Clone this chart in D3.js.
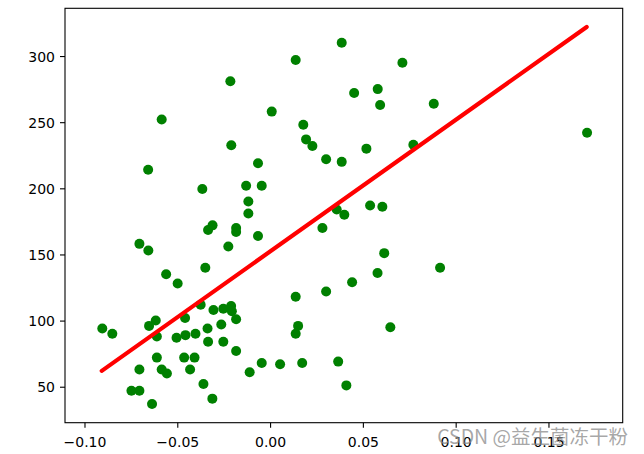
<!DOCTYPE html>
<html>
<head>
<meta charset="utf-8">
<script src="https://cdn.jsdelivr.net/npm/d3@7"></script>
<style>
  html, body { margin: 0; padding: 0; background: #fff; }
  svg { display: block; }
</style>
</head>
<body>
<svg id="chart" width="644" height="454"></svg>
<script>
// Scatter data (x feature value, target value)
const xValues = [
  0.0386, 0.0138, 0.0713, -0.0214, 0.0580, 0.0453, 0.0882, 0.0593, 0.0009, -0.0584,
  0.0179, 0.1708, 0.0194, -0.0209, 0.0772, 0.0228, 0.0519, 0.0302, 0.0386, -0.0065,
  -0.0657, -0.0129, -0.0045, -0.0365, -0.0117, 0.0539, 0.0605, 0.0359, -0.0117, 0.0400,
  -0.0310, -0.0334, -0.0183, -0.0183, 0.0282, -0.0065, -0.0704, -0.0225, -0.0656, 0.0615,
  -0.0349, 0.0916, -0.0560, 0.0579, -0.0498, 0.0442, 0.0302, 0.0138, -0.0374, -0.0210,
  -0.0252, -0.0305, -0.0206, -0.0616, -0.0458, -0.0183, -0.0263, -0.0652, 0.0151, 0.0648,
  -0.0904, -0.0337, -0.0850, 0.0138, -0.0456, -0.0402, -0.0610, -0.0504, -0.0334, -0.0252,
  -0.0183, -0.0610, -0.0463, -0.0407, 0.0367, 0.0173, -0.0045, 0.0054, -0.0704, -0.0584,
  -0.0556, -0.0431, -0.0110, -0.0359, 0.0411, -0.0747, -0.0704, -0.0311, -0.0636
];
const yValues = [
  310, 297, 295, 281, 275, 272, 264, 263, 258, 252,
  248, 242, 237, 232.5, 233, 232, 230, 222, 220, 219,
  214, 202, 202, 199.5, 190, 187, 186, 184, 181, 180,
  172, 168.5, 170, 167, 170, 164, 158, 156, 153, 151,
  140, 140, 135, 136, 128, 129, 122, 118, 112, 111,
  109, 108, 107, 100, 102, 101, 97, 96, 96, 95,
  94, 94, 90, 90, 89, 90, 88, 87, 84, 84,
  77, 72, 72, 72, 69, 68, 68, 67, 63, 63,
  60, 63, 61, 52, 51, 47, 47, 41, 37
];
// Regression line end points
const lineX = [-0.0907, 0.1706];
const lineY = [62, 322];
// Axis ticks
const xTicks = [-0.10, -0.05, 0.00, 0.05, 0.10, 0.15];
const yTicks = [50, 100, 150, 200, 250, 300];
const watermark = "CSDN @益生菌冻干粉";

const W = 644, H = 454;
const margin = { left: 65, top: 8.3, right: 21.3, bottom: 31.3 };
const svg = d3.select("#chart");

const x = d3.scaleLinear().domain([-0.1105, 0.1900]).range([margin.left, W - margin.right]);
const y = d3.scaleLinear().domain([22.8, 336.1]).range([H - margin.bottom, margin.top]);

const font = "'DejaVu Sans', sans-serif";

// points
const pts = d3.zip(xValues, yValues);
svg.append("g")
  .selectAll("circle")
  .data(pts)
  .join("circle")
  .attr("cx", d => x(d[0]))
  .attr("cy", d => y(d[1]))
  .attr("r", 5)
  .attr("fill", "#008000");

// regression line
svg.append("path")
  .datum(d3.zip(lineX, lineY))
  .attr("d", d3.line().x(d => x(d[0])).y(d => y(d[1])))
  .attr("fill", "none")
  .attr("stroke", "#ff0000")
  .attr("stroke-width", 4.2)
  .attr("stroke-linecap", "round");

// frame
svg.append("rect")
  .attr("x", margin.left)
  .attr("y", margin.top)
  .attr("width", W - margin.left - margin.right)
  .attr("height", H - margin.top - margin.bottom)
  .attr("fill", "none")
  .attr("stroke", "#000")
  .attr("stroke-width", 1.1);

// x axis
const fmt = d3.format(".2f");
const gx = svg.append("g")
  .attr("transform", `translate(0,${H - margin.bottom})`)
  .call(d3.axisBottom(x).tickValues(xTicks).tickFormat(fmt).tickSize(5).tickSizeOuter(0));
gx.select(".domain").remove();
gx.selectAll("line").attr("stroke", "#000").attr("stroke-width", 1.1);
gx.selectAll("text")
  .attr("y", 24.3).attr("dy", 0)
  .attr("fill", "#000")
  .style("font-family", font).style("font-size", "14px");

// y axis
const gy = svg.append("g")
  .attr("transform", `translate(${margin.left},0)`)
  .call(d3.axisLeft(y).tickValues(yTicks).tickFormat(d3.format("d")).tickSize(5).tickPadding(5).tickSizeOuter(0));
gy.select(".domain").remove();
gy.selectAll("line").attr("stroke", "#000").attr("stroke-width", 1.1);
gy.selectAll("text")
  .attr("dy", "0.36em")
  .attr("fill", "#000")
  .style("font-family", font).style("font-size", "14px");

// watermark
svg.append("text")
  .attr("x", 628)
  .attr("y", 443.5)
  .attr("text-anchor", "end")
  .attr("fill", "#8a8a8a")
  .attr("fill-opacity", 0.75)
  .style("font-family", "'Noto Sans CJK SC', sans-serif")
  .style("font-size", "19.5px")
  .text(watermark);
</script>
</body>
</html>
